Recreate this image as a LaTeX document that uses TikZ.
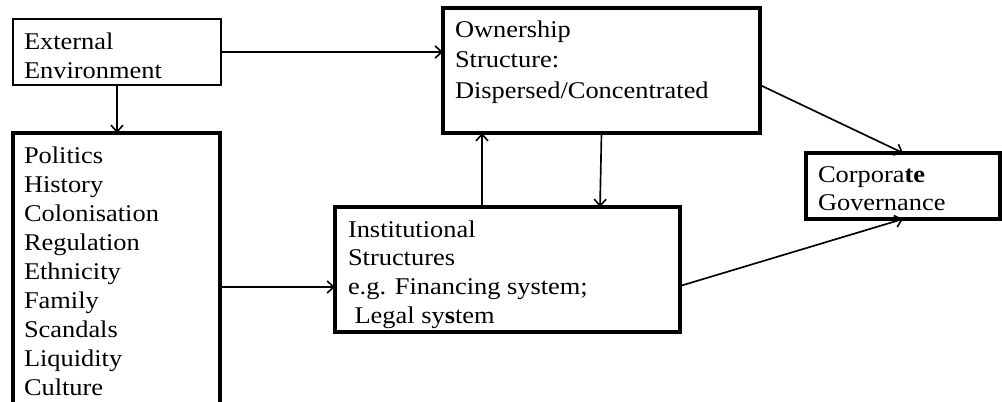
\documentclass[tikz,border=0pt]{standalone}
\usepackage{fontspec}
\setmainfont{Liberation Serif}
\usepackage{graphicx}
\usetikzlibrary{arrows.meta,calc}
% left-aligned block of lines, slightly widened like the original typesetting
\newcommand\boxtext[2][21.75pt]{\scalebox{1.1}[1]{\fontsize{18pt}{#1}\selectfont\begin{tabular}[t]{@{}l@{}}#2\end{tabular}}}
\tikzset{
  box/.style={draw, rectangle, inner sep=0pt, outer sep=0pt, line width=2.3pt},
  thinbox/.style={box, line width=1.5pt},
  conn/.style={line width=1.25pt, -{Straight Barb[length=5pt,width=9pt,line width=1.2pt]}},
  lbl/.style={anchor=base west, inner sep=0pt, outer sep=0pt}
}
\begin{document}
\begin{tikzpicture}[x=0.75pt, y=-0.75pt]
\useasboundingbox (0,0) rectangle (1002,401);
\clip (0,0) rectangle (1002,401);

% boxes
\node[thinbox, minimum width=156pt, minimum height=49.5pt] (ext) at (117,52) {};
\node[box, minimum width=155.25pt, minimum height=215.25pt] (list) at (116.5,276.5) {};
\node[box, minimum width=237.75pt, minimum height=93.75pt] (own) at (601.5,70.5) {};
\node[box, minimum width=258.75pt, minimum height=93.75pt] (inst) at (507.5,269.5) {};
\node[box, minimum width=145.5pt, minimum height=49.5pt] (corp) at (903,186) {};

% texts
\node[lbl] (extT) at ($(ext.north west)+(11,30)$) {\boxtext{External\\Environment}};
\node[lbl] (listT) at ($(list.north west)+(11,30)$) {\boxtext{Politics\\History\\Colonisation\\Regulation\\Ethnicity\\Family\\Scandals\\Liquidity\\Culture}};
\node[lbl] (ownT) at ($(own.north west)+(12,29)$) {\boxtext[22.9pt]{Ownership\\Structure:\\Dispersed/Concentrated}};
\node[lbl] (instT) at ($(inst.north west)+(13,30)$) {\boxtext[21.6pt]{Institutional\\Structures\\e.g. Financing system;\\\ Legal sy\textbf{s}tem}};
\node[lbl] (corpT) at ($(corp.north west)+(12,29)$) {\boxtext[21pt]{Corpora\textbf{te}\\Governance}};

% connectors
\draw[conn] (ext.east) -- (ext.east -| own.west);
\draw[conn] (ext.south) -- (ext.south |- list.north);
\coordinate (li) at ($(list.east)+(0,10.5)$);
\draw[conn] (li) -- (li -| inst.west);
\coordinate (iu) at ($(inst.north west)+(147,0)$);
\draw[conn] (iu) -- (iu |- own.south);
\coordinate (id) at ($(inst.north west)+(265,0)$);
\draw[conn] (own.south) -- (id);
\coordinate (oc) at ($(own.east)+(0,14.5)$);
\draw[conn] (oc) -- (corp.north);
\coordinate (ic) at ($(inst.east)+(0,16.5)$);
\draw[conn] (ic) -- (corp.south);
\end{tikzpicture}
\end{document}
